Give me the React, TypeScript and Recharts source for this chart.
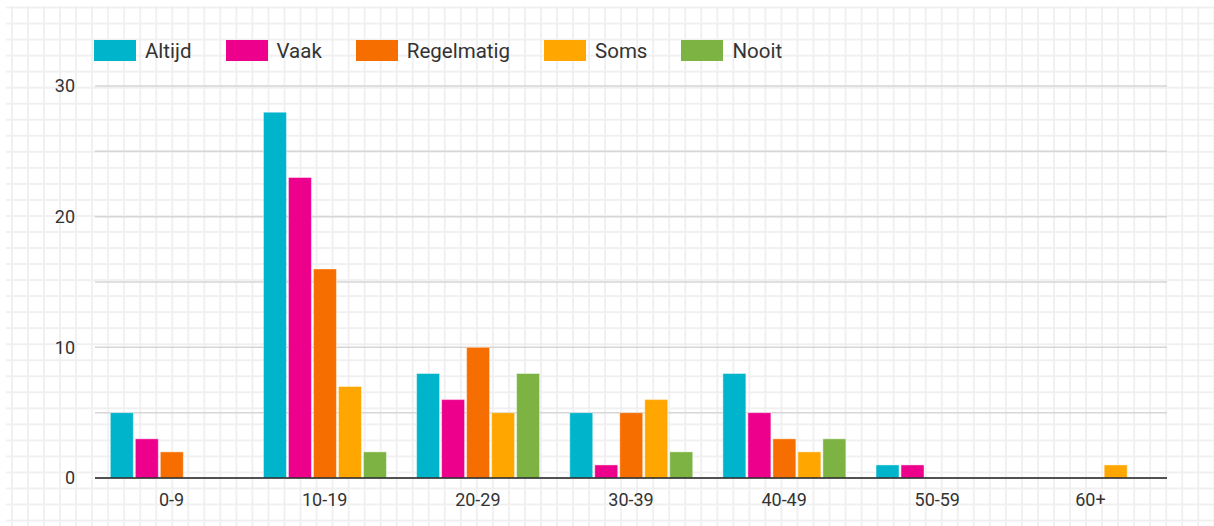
import React from 'react';
import { BarChart, Bar, XAxis, YAxis, CartesianGrid, Legend } from 'recharts';

const categories = ['0-9', '10-19', '20-29', '30-39', '40-49', '50-59', '60+'];
const altijd = [5, 28, 8, 5, 8, 1, 0];
const vaak = [3, 23, 6, 1, 5, 1, 0];
const regelmatig = [2, 16, 10, 5, 3, 0, 0];
const soms = [0, 7, 5, 6, 2, 0, 1];
const nooit = [0, 2, 8, 2, 3, 0, 0];
const yTicks = [0, 5, 10, 15, 20, 25, 30];
const yLabelTicks = [0, 10, 20, 30];

const series = [
  { key: 'Altijd', values: altijd, color: '#00b4cb' },
  { key: 'Vaak', values: vaak, color: '#ec008c' },
  { key: 'Regelmatig', values: regelmatig, color: '#f76e00' },
  { key: 'Soms', values: soms, color: '#ffa600' },
  { key: 'Nooit', values: nooit, color: '#7cb342' },
];

const data = categories.map((c, i) => {
  const row: Record<string, string | number> = { name: c };
  series.forEach((s) => {
    row[s.key] = s.values[i];
  });
  return row;
});

const FONT = 'Roboto, "Noto Sans", sans-serif';

const YTick = (props: any) => {
  const { x, y, payload } = props;
  if (!yLabelTicks.includes(payload.value)) return null;
  return (
    <text x={x} y={y} dy="0.355em" textAnchor="end" fill="#333" fontSize={18} fontFamily={FONT}>
      {payload.value}
    </text>
  );
};

const XTick = (props: any) => {
  const { x, y, payload } = props;
  return (
    <text x={x} y={y} dy="0.71em" textAnchor="middle" fill="#333" fontSize={18} fontFamily={FONT}>
      {payload.value}
    </text>
  );
};

const LegendContent = (props: any) => {
  const payload: any[] = props.payload || [];
  const ordered = series
    .map((s) => payload.find((p: any) => p.value === s.key || p.dataKey === s.key))
    .filter(Boolean);
  return (
    <div style={{ display: 'flex', flexDirection: 'row', alignItems: 'center', gap: 34, fontFamily: FONT }}>
      {ordered.map((p: any) => (
        <div key={p.value} style={{ display: 'flex', alignItems: 'center' }}>
          <div style={{ width: 42, height: 21, background: p.color, marginRight: 9 }} />
          <span style={{ fontSize: 20.5, color: '#333', lineHeight: '21px', position: 'relative', top: 1 }}>{p.value}</span>
        </div>
      ))}
    </div>
  );
};

export default function App() {
  return (
    <div style={{ position: 'absolute', left: 0, top: 0, width: 1214, height: 526, background: '#fff', overflow: 'hidden' }}>
      <div
        style={{
          position: 'absolute',
          left: 6,
          top: 6,
          right: 0,
          bottom: 0,
          backgroundImage:
            'linear-gradient(to right, #f0f0f0 1.5px, transparent 1.5px), linear-gradient(to bottom, #f0f0f0 1.5px, transparent 1.5px)',
          backgroundSize: '16.04px 16.04px',
          backgroundPosition: '5px 0.6px',
        }}
      />
      <div style={{ position: 'absolute', left: 0, top: 0 }}>
        <BarChart
          width={1214}
          height={526}
          data={data}
          margin={{ top: 86, right: 47, left: 0, bottom: 18 }}
          barCategoryGap="10%"
          barGap={2}
        >
          <CartesianGrid vertical={false} stroke="#d6d6d6" strokeWidth={1.5} />
          <XAxis
            dataKey="name"
            height={30}
            tickLine={false}
            tickSize={0}
            tickMargin={15}
            axisLine={{ stroke: '#222', strokeWidth: 1.5 }}
            tick={<XTick />}
            interval={0}
          />
          <YAxis
            width={95}
            domain={[0, 30]}
            ticks={yTicks}
            interval={0}
            axisLine={false}
            tickLine={false}
            tickSize={0}
            tickMargin={20}
            tick={<YTick />}
          />
          <Legend
            layout="horizontal"
            verticalAlign="middle"
            align="center"
            wrapperStyle={{ top: 40, left: 94, width: 'auto' }}
            content={<LegendContent />}
          />
          {series.map((s) => (
            <Bar
              key={s.key}
              dataKey={s.key}
              fill={s.color}
              stroke="rgba(255,255,255,0.45)"
              strokeWidth={1}
              isAnimationActive={false}
            />
          ))}
        </BarChart>
      </div>
    </div>
  );
}
